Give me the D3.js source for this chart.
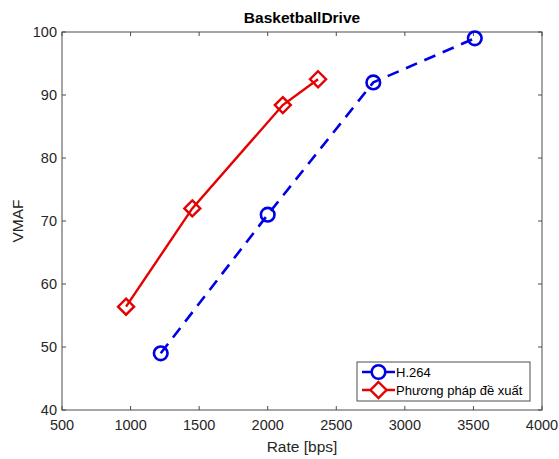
<!DOCTYPE html>
<html>
<head>
<meta charset="utf-8">
<script src="https://cdn.jsdelivr.net/npm/d3@7"></script>
<style>
  body { margin: 0; background: #fff; }
  svg text { font-family: "Liberation Sans", Arial, sans-serif; fill: #262626; }
</style>
</head>
<body>
<div id="chart"></div>
<script>
// values
var h264Rate = [1220, 2000, 2770, 3510];
var h264Vmaf = [49, 71, 92, 99];
var propRate = [967, 1450, 2110, 2367];
var propVmaf = [56.4, 72, 88.4, 92.5];
var xTicks = [500, 1000, 1500, 2000, 2500, 3000, 3500, 4000];
var yTicks = [40, 50, 60, 70, 80, 90, 100];
var seriesNames = ["H.264", "Phương pháp đề xuất"];

var width = 559, height = 459;
var margin = {left: 62, right: 17, top: 32, bottom: 49};

var svg = d3.select("#chart").append("svg")
  .attr("width", width)
  .attr("height", height);

var x = d3.scaleLinear().domain([500, 4000]).range([margin.left, width - margin.right]);
var y = d3.scaleLinear().domain([40, 100]).range([height - margin.bottom, margin.top]);

let axisColor = "#4d4d4d";
let tickLen = 4;

// box
svg.append("rect")
  .attr("x", x(500)).attr("y", y(100))
  .attr("width", x(4000) - x(500)).attr("height", y(40) - y(100))
  .attr("fill", "none").attr("stroke", axisColor).attr("stroke-width", 1);

// x ticks, inward at bottom and top
xTicks.forEach(function(t) {
  svg.append("line").attr("x1", x(t)).attr("x2", x(t))
    .attr("y1", y(40)).attr("y2", y(40) - tickLen).attr("stroke", axisColor);
  svg.append("line").attr("x1", x(t)).attr("x2", x(t))
    .attr("y1", y(100)).attr("y2", y(100) + tickLen).attr("stroke", axisColor);
  svg.append("text").text(t)
    .attr("x", x(t)).attr("y", y(40) + 20)
    .attr("text-anchor", "middle").attr("font-size", 14.5);
});

// y ticks, inward at left and right
yTicks.forEach(function(t) {
  svg.append("line").attr("x1", x(500)).attr("x2", x(500) + tickLen)
    .attr("y1", y(t)).attr("y2", y(t)).attr("stroke", axisColor);
  svg.append("line").attr("x1", x(4000)).attr("x2", x(4000) - tickLen)
    .attr("y1", y(t)).attr("y2", y(t)).attr("stroke", axisColor);
  svg.append("text").text(t)
    .attr("x", x(500) - 5).attr("y", y(t) + 5)
    .attr("text-anchor", "end").attr("font-size", 14.5);
});

// labels
svg.append("text").text("BasketballDrive")
  .attr("x", (x(500) + x(4000)) / 2).attr("y", 23)
  .attr("text-anchor", "middle").attr("font-size", 15.5).attr("font-weight", "bold")
  .style("fill", "#000");

svg.append("text").text("Rate [bps]")
  .attr("x", (x(500) + x(4000)) / 2).attr("y", 452)
  .attr("text-anchor", "middle").attr("font-size", 15.5);

svg.append("text").text("VMAF")
  .attr("transform", "translate(23," + ((y(40) + y(100)) / 2) + ") rotate(-90)")
  .attr("text-anchor", "middle").attr("font-size", 15.5);

let line = d3.line().x(d => x(d[0])).y(d => y(d[1]));

let h264Data = h264Rate.map((r, i) => [r, h264Vmaf[i]]);
let propData = propRate.map((r, i) => [r, propVmaf[i]]);

let blue = "#0000e6", red = "#e60000";

let diamond = function(cx, cy, s) {
  return "M" + cx + "," + (cy - s) + "L" + (cx + s) + "," + cy +
    "L" + cx + "," + (cy + s) + "L" + (cx - s) + "," + cy + "Z";
};

// H.264, dashed with circles
svg.append("path").datum(h264Data)
  .attr("d", line).attr("fill", "none")
  .attr("stroke", blue).attr("stroke-width", 2.6)
  .attr("stroke-dasharray", "12,8");
svg.selectAll("circle.h264").data(h264Data)
  .enter().append("circle")
  .attr("class", "h264")
  .attr("cx", d => x(d[0])).attr("cy", d => y(d[1]))
  .attr("r", 6.8).attr("fill", "none")
  .attr("stroke", blue).attr("stroke-width", 2.6);

// proposed, solid with diamonds
svg.append("path").datum(propData)
  .attr("d", line).attr("fill", "none")
  .attr("stroke", red).attr("stroke-width", 2.4);
svg.selectAll("path.prop").data(propData)
  .enter().append("path")
  .attr("class", "prop")
  .attr("d", d => diamond(x(d[0]), y(d[1]), 8))
  .attr("fill", "none").attr("stroke", red).attr("stroke-width", 2.4);

// legend
let lg = svg.append("g");
lg.append("rect")
  .attr("x", 357).attr("y", 362).attr("width", 173).attr("height", 39)
  .attr("fill", "#fff").attr("stroke", axisColor).attr("stroke-width", 1);
let legendRows = [
  {name: seriesNames[0], color: blue, y: 372, mark: "circle"},
  {name: seriesNames[1], color: red, y: 390, mark: "diamond"}
];
legendRows.forEach(function(r) {
  lg.append("line").attr("x1", 362).attr("x2", 395)
    .attr("y1", r.y).attr("y2", r.y)
    .attr("stroke", r.color).attr("stroke-width", 2.6);
  if (r.mark == "circle") {
    lg.append("circle").attr("cx", 378.5).attr("cy", r.y).attr("r", 6.8)
      .attr("fill", "#fff").attr("stroke", r.color).attr("stroke-width", 2.6);
  } else {
    lg.append("path").attr("d", diamond(378.5, r.y, 8))
      .attr("fill", "#fff").attr("stroke", r.color).attr("stroke-width", 2.4);
  }
  lg.append("text").text(r.name)
    .attr("x", 396).attr("y", r.y + 4.5)
    .attr("font-size", 13).style("fill", "#000");
});
</script>
</body>
</html>
